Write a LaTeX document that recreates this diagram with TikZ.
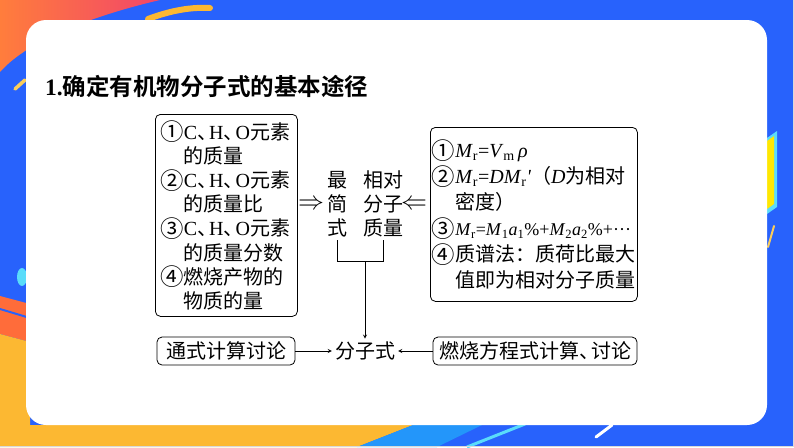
\documentclass[tikz,border=0pt]{standalone}
\usepackage{fontspec}
\setmainfont{Noto Sans CJK SC}[BoldFont={Noto Sans CJK SC Bold}]
\newfontfamily\latinfont{Liberation Serif}
\newcommand\latn[1]{{\latinfont #1}}
\newcommand\cnum[1]{\raisebox{-1.6pt}{\scalebox{1.17}{#1}}}
\newcommand\hang{\hphantom{\cnum{①}}}
\newcommand\dunhao{、\kern-.4em}
\definecolor{slideblue}{RGB}{40,98,252}
\definecolor{swooshorange}{RGB}{255,125,60}
\definecolor{swooshred}{RGB}{242,70,105}
\definecolor{slideyellow}{RGB}{252,184,50}
\definecolor{paleyellow}{RGB}{250,205,90}
\definecolor{skyblue}{RGB}{35,150,250}
\definecolor{slidecyan}{RGB}{90,220,250}
\definecolor{bandorange}{RGB}{255,108,58}

\begin{document}
\begin{tikzpicture}[x=1pt, y=-1pt]
        \tikzstyle{box} = [draw, rounded corners=5pt, line width=0.8pt, align=left, font=\fontsize{20}{24.2}\selectfont]
        \tikzstyle{label} = [align=center, inner sep=3pt, font=\fontsize{20}{24}\selectfont]
        \tikzstyle{arrowline} = [-{stealth}, line width=0.8pt]
        \useasboundingbox (0,0) rectangle (794,447);
        \fill[slideblue] (0,0) rectangle (794,447);
        \shade[left color=swooshorange, right color=swooshred] (0,0) -- (160,0) .. controls (100,14) and (30,38) .. (0,72) -- cycle;
        \draw[slideyellow, line width=6pt, line cap=round] (148,19) .. controls (172,10) and (192,7) .. (210,8);
        \draw[paleyellow, line width=3.5pt, line cap=round] (15,89) -- (25,80);
        \fill[slidecyan] (22,277) ellipse (5 and 9);
        \fill[bandorange] (0,296) -- (30,304) -- (30,342) -- (0,334) -- cycle;
        \draw[slideblue, line width=2pt] (0,309) -- (30,318);
        \fill[slideyellow] (0,334) -- (30,342) -- (30,425) -- (413,425) -- (357,447) -- (0,447) -- cycle;
        \fill[skyblue] (413,425) -- (482,425) -- (437,447) -- (357,447) -- cycle;
        \draw[slidecyan, line width=3pt] (467,447) -- (525,424);
        \draw[white, line width=3pt, line cap=round] (596,437) -- (612,425);
        \fill[slidecyan] (767,138) -- (777,131) -- (777,207) -- (767,214) -- cycle;
        \fill[yellow!90!orange] (767,141) -- (774,136) -- (774,204) -- (767,209) -- cycle;
        \draw[paleyellow, line width=2pt, line cap=round] (768,247) -- (774,226);
        \fill[white, rounded corners=20pt] (26,20) rectangle (767,425);
        \draw[white!85!black, line width=1pt] (793.5,0) -- (793.5,446.5) -- (0,446.5);
        \node[anchor=base west, inner sep=0pt, font=\fontsize{23.5}{28}\selectfont\bfseries] (title) at (45,95) {\latn{1.}确定有机物分子式的基本途径};
        \node[box, anchor=north west, text width=132pt, inner sep=5pt, minimum height=202pt] (elem) at (155,114) {\cnum{①}\latn{C}\dunhao\latn{H}\dunhao\latn{O}元素\\\hang 的质量\\\cnum{②}\latn{C}\dunhao\latn{H}\dunhao\latn{O}元素\\\hang 的质量比\\\cnum{③}\latn{C}\dunhao\latn{H}\dunhao\latn{O}元素\\\hang 的质量分数\\\cnum{④}燃烧产物的\\\hang 物质的量};
        \node[box, anchor=north west, text width=204pt, inner xsep=1.5pt, minimum height=174pt, font=\fontsize{20}{26}\selectfont] (mass) at (430,127) {\cnum{①}\latn{\textit{M}\textsubscript{r}=\textit{V}\textsubscript{m}\,\textit{ρ}}\\\cnum{②}\latn{\textit{M}\textsubscript{r}=\textit{DM}\textsubscript{r}\textit{'}}（\latn{\textit{D}}为相对\\\hang 密度）\\\cnum{③}{\fontsize{18}{26}\selectfont\latn{\textit{M}\textsubscript{r}=\textit{M}\textsubscript{1}\textit{a}\textsubscript{1}\%+\textit{M}\textsubscript{2}\textit{a}\textsubscript{2}\%+···}}\\\cnum{④}质谱法：质荷比最大\\\hang 值即为相对分子质量};
        \node[label] (simp) at (337,204) {最\\简\\式};
        \node[label] (relm) at (383,204) {相对\\分子\\质量};
        \node[label] (toright) at (311,205) {\scalebox{1.25}{$\Rightarrow$}};
        \node[label] (toleft) at (414,205) {\scalebox{1.25}{$\Leftarrow$}};
        \node[label] (formula) at (365,351) {分子式};
        \node[box, inner xsep=9pt, minimum height=28pt] (general) at (226,351) {通式计算讨论};
        \node[box, inner xsep=6pt, minimum height=28pt] (combust) at (535,351) {燃烧方程式计算\dunhao 讨论};
        \draw[line width=0.8pt] (simp.south) -- ++(0,21) coordinate (bl) -| (relm.south);
        \draw[arrowline] (bl -| formula.north) -- (formula.north);
        \draw[arrowline] (general) -- (formula);
        \draw[arrowline] (combust) -- (formula);
    \end{tikzpicture}
\end{document}
